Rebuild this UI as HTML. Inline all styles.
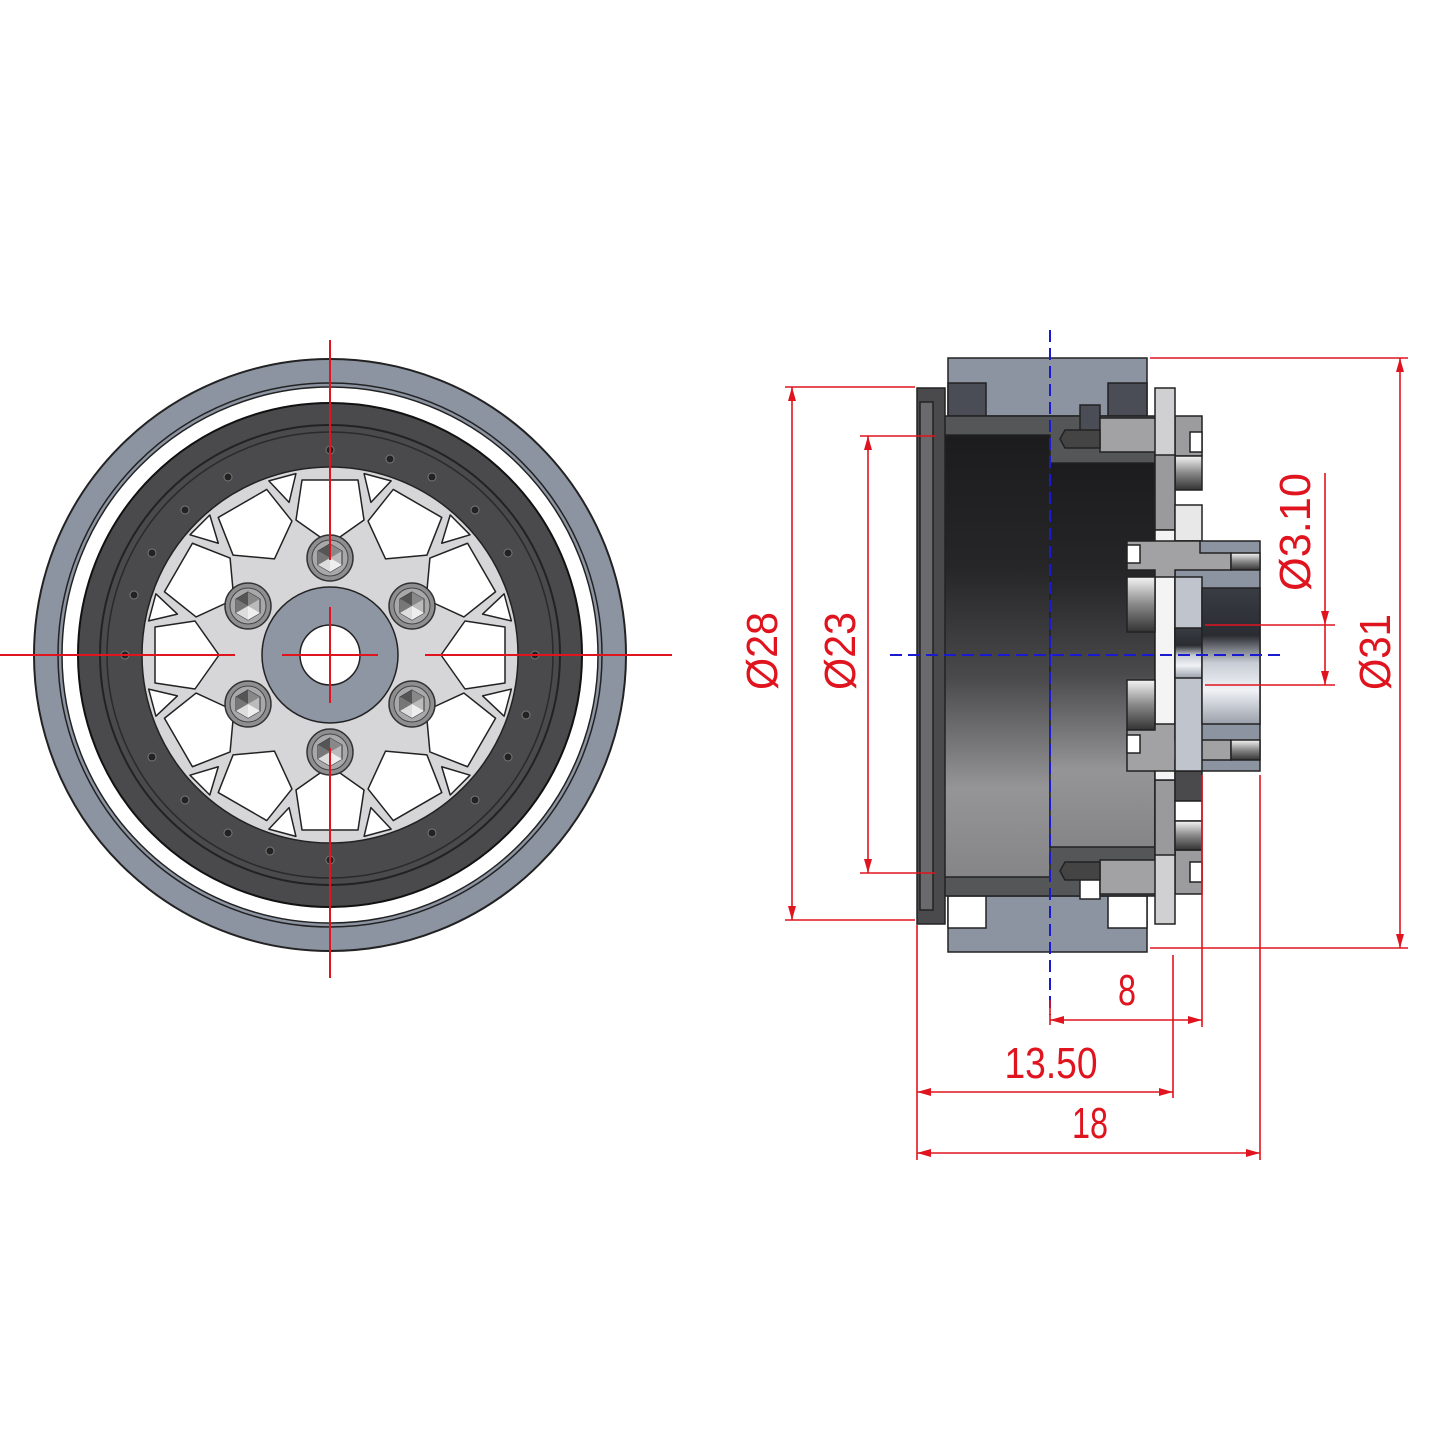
<!DOCTYPE html>
<html><head><meta charset="utf-8"><style>html,body{margin:0;padding:0;background:#fff}svg{display:block}</style></head><body>
<svg width="1445" height="1445" viewBox="0 0 1445 1445" xmlns="http://www.w3.org/2000/svg">
<defs>
<linearGradient id="barrel" x1="0" y1="0" x2="0" y2="1">
<stop offset="0" stop-color="#1c1c1e"/><stop offset="0.3" stop-color="#262628"/><stop offset="0.55" stop-color="#4a4a4c"/><stop offset="0.8" stop-color="#959597"/><stop offset="1" stop-color="#858587"/>
</linearGradient>
<linearGradient id="chrome" x1="0" y1="0" x2="0" y2="1">
<stop offset="0" stop-color="#3a3c44"/><stop offset="0.35" stop-color="#2a2c32"/><stop offset="0.55" stop-color="#c8ccd4"/><stop offset="0.75" stop-color="#f0f2f6"/><stop offset="1" stop-color="#9aa0aa"/>
</linearGradient>
<linearGradient id="pin" x1="0" y1="0" x2="0" y2="1">
<stop offset="0" stop-color="#f4f4f4"/><stop offset="0.5" stop-color="#888"/><stop offset="1" stop-color="#333"/>
</linearGradient>
<g id="hole"><path d="M-28,-30 L28,-30 L34,10 L0,34 L-34,10 Z" fill="#fff" stroke="#222" stroke-width="1.5" stroke-linejoin="round"/></g>
<g id="tri"><path d="M-14,-12 L14,-12 L0,14 Z" fill="#fff" stroke="#222" stroke-width="1.5" stroke-linejoin="round"/></g>
<g id="bolt"><circle r="23" fill="#8e8e90" stroke="#333" stroke-width="1.5"/><circle r="18" fill="#a8a8aa" stroke="#444" stroke-width="1"/>
<path d="M0,-14 L12,-7 L12,7 L0,14 L-12,7 L-12,-7Z" fill="#bbb" stroke="#333" stroke-width="1"/>
<path d="M0,0 L0,-14 L-12,-7Z" fill="#555"/><path d="M0,0 L-12,-7 L-12,7Z" fill="#777"/><path d="M0,0 L12,-7 L0,-14Z" fill="#888"/><path d="M0,0 L0,14 L12,7Z" fill="#eee"/><path d="M0,0 L-12,7 L0,14Z" fill="#ddd"/></g>
</defs>

<!-- FRONT VIEW -->
<g>
<circle cx="330" cy="655" r="296" fill="#8c94a2" stroke="#222" stroke-width="2"/>
<circle cx="330" cy="655" r="272" fill="#8c94a2" stroke="#222" stroke-width="1.5"/>
<circle cx="330" cy="655" r="268" fill="#fff" stroke="#222" stroke-width="1.5"/>
<circle cx="330" cy="655" r="252" fill="#4a4a4c" stroke="#111" stroke-width="2"/>
<circle cx="330" cy="655" r="230" fill="none" stroke="#222" stroke-width="2"/>
<circle cx="330" cy="655" r="223" fill="none" stroke="#2a2a2a" stroke-width="1.5"/>
<g id="dots" fill="#222" stroke="#666" stroke-width="1">
</g>
<circle cx="330" cy="655" r="188" fill="#d6d6d8" stroke="#222" stroke-width="1.5"/>
<g transform="translate(330,655)">
<g transform="rotate(0) translate(0,-145)"><use href="#hole"/></g>
<g transform="rotate(30) translate(0,-145)"><use href="#hole"/></g>
<g transform="rotate(60) translate(0,-145)"><use href="#hole"/></g>
<g transform="rotate(90) translate(0,-145)"><use href="#hole"/></g>
<g transform="rotate(120) translate(0,-145)"><use href="#hole"/></g>
<g transform="rotate(150) translate(0,-145)"><use href="#hole"/></g>
<g transform="rotate(180) translate(0,-145)"><use href="#hole"/></g>
<g transform="rotate(210) translate(0,-145)"><use href="#hole"/></g>
<g transform="rotate(240) translate(0,-145)"><use href="#hole"/></g>
<g transform="rotate(270) translate(0,-145)"><use href="#hole"/></g>
<g transform="rotate(300) translate(0,-145)"><use href="#hole"/></g>
<g transform="rotate(330) translate(0,-145)"><use href="#hole"/></g>
<g transform="rotate(15) translate(0,-172)"><use href="#tri"/></g>
<g transform="rotate(45) translate(0,-172)"><use href="#tri"/></g>
<g transform="rotate(75) translate(0,-172)"><use href="#tri"/></g>
<g transform="rotate(105) translate(0,-172)"><use href="#tri"/></g>
<g transform="rotate(135) translate(0,-172)"><use href="#tri"/></g>
<g transform="rotate(165) translate(0,-172)"><use href="#tri"/></g>
<g transform="rotate(195) translate(0,-172)"><use href="#tri"/></g>
<g transform="rotate(225) translate(0,-172)"><use href="#tri"/></g>
<g transform="rotate(255) translate(0,-172)"><use href="#tri"/></g>
<g transform="rotate(285) translate(0,-172)"><use href="#tri"/></g>
<g transform="rotate(315) translate(0,-172)"><use href="#tri"/></g>
<g transform="rotate(345) translate(0,-172)"><use href="#tri"/></g>
<g fill="#222" stroke="#777" stroke-width="1">
<circle cx="0" cy="-205" r="4"/><circle cx="0" cy="205" r="4"/><circle cx="-205" cy="0" r="4"/><circle cx="205" cy="0" r="4"/>
<circle cx="102" cy="-178" r="4"/><circle cx="-102" cy="-178" r="4"/><circle cx="102" cy="178" r="4"/><circle cx="-102" cy="178" r="4"/>
<circle cx="178" cy="-102" r="4"/><circle cx="-178" cy="-102" r="4"/><circle cx="178" cy="102" r="4"/><circle cx="-178" cy="102" r="4"/>
<circle cx="60" cy="-196" r="4"/><circle cx="-60" cy="196" r="4"/><circle cx="-196" cy="-60" r="4"/><circle cx="196" cy="60" r="4"/>
<circle cx="145" cy="-145" r="4"/><circle cx="-145" cy="145" r="4"/><circle cx="-145" cy="-145" r="4"/><circle cx="145" cy="145" r="4"/>
</g>
<circle r="68" fill="#8e96a4" stroke="#222" stroke-width="1.5"/>
<circle r="30" fill="#fff" stroke="#222" stroke-width="1.5"/>
<use href="#bolt" transform="translate(0,-97)"/><use href="#bolt" transform="translate(0,97)"/>
<use href="#bolt" transform="translate(-82,-49)"/><use href="#bolt" transform="translate(82,-49)"/>
<use href="#bolt" transform="translate(-82,49)"/><use href="#bolt" transform="translate(82,49)"/>
</g>
<g stroke="#e0141e" stroke-width="2">
<line x1="0" y1="655" x2="235" y2="655"/><line x1="282" y1="655" x2="378" y2="655"/><line x1="425" y1="655" x2="672" y2="655"/>
<line x1="330" y1="340" x2="330" y2="560"/><line x1="330" y1="607" x2="330" y2="703"/><line x1="330" y1="748" x2="330" y2="978"/>
</g>
</g>

<!-- SIDE VIEW -->
<g stroke="#222" stroke-width="1.5">
<!-- tire -->
<rect x="948" y="358" width="199" height="58" fill="#8c94a2"/>
<rect x="948" y="383" width="38" height="33" fill="#4a4c56"/>
<rect x="1108" y="383" width="39" height="33" fill="#4a4c56"/>
<rect x="948" y="896" width="199" height="56" fill="#8c94a2"/>
<rect x="948" y="896" width="38" height="32" fill="#fff"/>
<rect x="1108" y="896" width="39" height="32" fill="#fff"/>
<!-- barrel -->
<rect x="933" y="416" width="222" height="480" fill="#555658"/>
<rect x="933" y="435" width="117" height="442" fill="url(#barrel)"/>
<rect x="1050" y="463" width="105" height="384" fill="url(#barrel)"/>
<!-- flange -->
<rect x="917" y="388" width="28" height="536" fill="#4a4a4c"/>
<rect x="920" y="402" width="13" height="508" fill="#6a6a6c"/>
<!-- upper bolt -->
<rect x="1080" y="405" width="20" height="30" fill="#4a4c56"/>
<path d="M1100,418 L1175,418 L1175,452 L1100,452 Z" fill="#a2a2a4"/>
<path d="M1065,430 L1100,430 L1100,448 L1065,448 L1060,439Z" fill="#444"/>
<rect x="1175" y="416" width="27" height="40" fill="#9c9c9e"/>
<rect x="1190" y="432" width="12" height="20" fill="#fff"/>
<rect x="1175" y="456" width="27" height="34" fill="url(#pin)"/>
<!-- lower bolt -->
<rect x="1080" y="877" width="20" height="22" fill="#fff"/>
<path d="M1100,860 L1175,860 L1175,894 L1100,894 Z" fill="#a2a2a4"/>
<path d="M1065,862 L1100,862 L1100,880 L1065,880 L1060,871Z" fill="#444"/>
<rect x="1175" y="850" width="27" height="44" fill="#9c9c9e"/>
<rect x="1190" y="862" width="12" height="20" fill="#fff"/>
<!-- ring -->
<rect x="1155" y="388" width="20" height="536" fill="#d0d0d2"/>
<rect x="1155" y="455" width="20" height="75" fill="#9a9a9c"/>
<rect x="1155" y="780" width="20" height="75" fill="#9a9a9c"/>
<rect x="1155" y="530" width="20" height="250" fill="#f4f4f4"/>
<rect x="1175" y="505" width="27" height="36" fill="#e8e8e8"/>
<rect x="1175" y="771" width="27" height="30" fill="#4a4a4c"/>
<rect x="1175" y="801" width="27" height="20" fill="#fff"/>
<rect x="1175" y="821" width="27" height="29" fill="url(#pin)"/>
<!-- hub -->
<rect x="1175" y="541" width="85" height="230" fill="#8c94a2"/>
<path d="M1127,541 L1200,541 L1200,553 L1231,553 L1231,570 L1175,570 L1175,577 L1155,577 L1155,570 L1127,570Z" fill="#a2a2a4"/>
<rect x="1127" y="577" width="28" height="55" fill="url(#pin)"/>
<rect x="1127" y="680" width="28" height="50" fill="url(#pin)"/>
<path d="M1127,730 L1155,730 L1155,724 L1175,724 L1175,740 L1231,740 L1231,760 L1175,760 L1175,771 L1127,771Z" fill="#a2a2a4"/>
<rect x="1127" y="545" width="13" height="18" fill="#fff"/>
<rect x="1127" y="735" width="13" height="18" fill="#fff"/>
<rect x="1231" y="553" width="29" height="17" fill="url(#pin)"/>
<rect x="1231" y="740" width="29" height="20" fill="url(#pin)"/>
<rect x="1175" y="577" width="27" height="194" fill="#c0c4cc"/>
<rect x="1175" y="628" width="27" height="50" fill="url(#chrome)"/>
<rect x="1202" y="588" width="58" height="136" fill="url(#chrome)"/>
</g>

<!-- blue center lines -->
<g stroke="#1a1ad0" stroke-width="2" stroke-dasharray="12,6">
<line x1="1050" y1="330" x2="1050" y2="1015"/>
<line x1="890" y1="655" x2="1282" y2="655"/>
</g>

<!-- red dims -->
<g stroke="#e0141e" stroke-width="1.6" fill="none">
<line x1="1150" y1="358" x2="1408" y2="358"/><line x1="1150" y1="948" x2="1408" y2="948"/><line x1="1400" y1="358" x2="1400" y2="948"/>
<line x1="785" y1="387" x2="915" y2="387"/><line x1="785" y1="920" x2="915" y2="920"/><line x1="792" y1="387" x2="792" y2="920"/>
<line x1="860" y1="436" x2="935" y2="436"/><line x1="860" y1="873" x2="935" y2="873"/><line x1="868" y1="436" x2="868" y2="873"/>
<line x1="1205" y1="625" x2="1335" y2="625"/><line x1="1205" y1="685" x2="1335" y2="685"/><line x1="1325" y1="473" x2="1325" y2="685"/>
<line x1="1050" y1="1000" x2="1050" y2="1025"/><line x1="1202" y1="775" x2="1202" y2="1027"/><line x1="1050" y1="1020" x2="1202" y2="1020"/>
<line x1="1173" y1="955" x2="1173" y2="1098"/><line x1="917" y1="925" x2="917" y2="1160"/><line x1="917" y1="1092" x2="1173" y2="1092"/>
<line x1="1260" y1="775" x2="1260" y2="1160"/><line x1="917" y1="1153" x2="1260" y2="1153"/>
</g>
<g fill="#e0141e">
<path d="M1400,358 l-4,14 l8,0z"/><path d="M1400,948 l-4,-14 l8,0z"/>
<path d="M792,387 l-4,14 l8,0z"/><path d="M792,920 l-4,-14 l8,0z"/>
<path d="M868,436 l-4,14 l8,0z"/><path d="M868,873 l-4,-14 l8,0z"/>
<path d="M1325,625 l-4,-14 l8,0z"/><path d="M1325,685 l-4,-14 l8,0z"/>
<path d="M1050,1020 l14,-4 l0,8z"/><path d="M1202,1020 l-14,-4 l0,8z"/>
<path d="M917,1092 l14,-4 l0,8z"/><path d="M1173,1092 l-14,-4 l0,8z"/>
<path d="M917,1153 l14,-4 l0,8z"/><path d="M1260,1153 l-14,-4 l0,8z"/>
</g>
<g fill="#e0141e" font-family="Liberation Sans, sans-serif" font-size="44" text-anchor="middle">
<text transform="translate(777,651) rotate(-90)" textLength="78" lengthAdjust="spacingAndGlyphs">Ø28</text>
<text transform="translate(855,651) rotate(-90)" textLength="78" lengthAdjust="spacingAndGlyphs">Ø23</text>
<text transform="translate(1310,532) rotate(-90)" textLength="118" lengthAdjust="spacingAndGlyphs">Ø3.10</text>
<text transform="translate(1390,652) rotate(-90)" textLength="76" lengthAdjust="spacingAndGlyphs">Ø31</text>
<text x="1127" y="1005" textLength="18" lengthAdjust="spacingAndGlyphs">8</text>
<text x="1051" y="1078" textLength="93" lengthAdjust="spacingAndGlyphs">13.50</text>
<text x="1090" y="1138" textLength="36" lengthAdjust="spacingAndGlyphs">18</text>
</g>
</svg>
</body></html>
